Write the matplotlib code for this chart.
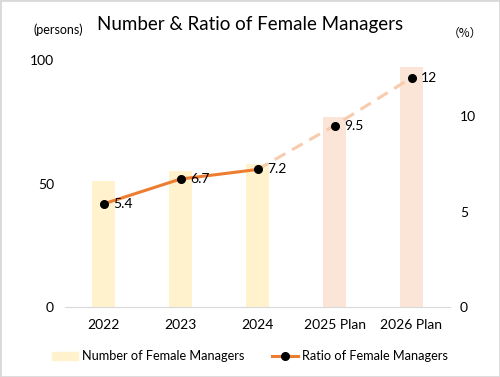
import matplotlib
matplotlib.use("Agg")
import matplotlib.pyplot as plt
from matplotlib.patches import Patch
from matplotlib.lines import Line2D

categories = ["2022", "2023", "2024", "2025 Plan", "2026 Plan"]
managers = [51, 55, 58, 77, 97]
ratio = [5.4, 6.7, 7.2, 9.5, 12]
ratio_labels = ["5.4", "6.7", "7.2", "9.5", "12"]
n_actual = 3

plt.rcParams['font.family'] = ['Lato', 'DejaVu Sans']
fig = plt.figure(figsize=(5.0, 3.77), dpi=100)
ax = fig.add_axes([0.13, 0.1857, 0.77, 0.655])
ax2 = ax.twinx()

x = list(range(len(categories)))
bar_colors = ["#FFF2CC"] * n_actual + ["#FBE5D6"] * (len(categories) - n_actual)
ax.bar(x, managers, width=0.31, color=bar_colors, zorder=1)
ax.set_xlim(-0.5, len(categories) - 0.5)
ax.set_ylim(0, 100)
ax.set_yticks([0, 50, 100])
ax.set_xticks(x)
ax.set_xticklabels(categories, fontsize=10)
ax2.set_ylim(0, 12.93)
ax2.set_yticks([0, 5, 10])

for a in (ax, ax2):
    for s in a.spines.values():
        s.set_visible(False)
    a.tick_params(length=0, labelsize=10, colors="black")
ax.tick_params(axis='y', pad=8)
ax2.tick_params(axis='y', pad=7)
ax.tick_params(axis='x', pad=9)
ax.spines['bottom'].set_visible(True)
ax.spines['bottom'].set_color("#D9D9D9")

ax2.plot(x[n_actual - 1:], ratio[n_actual - 1:], color="#F8CBAD", lw=2.2,
         ls=(0, (4, 2.5)), zorder=2)
ax2.plot(x[:n_actual], ratio[:n_actual], color="#ED7D31", lw=2.2, zorder=3)
ax2.plot(x, ratio, ls="none", marker="o", ms=5.5, color="black", zorder=4)
for xi, yi, lab in zip(x, ratio, ratio_labels):
    ax2.annotate(lab, (xi, yi), xytext=(7, 0), textcoords="offset points",
                 ha="left", va="center", fontsize=10)

fig.text(0.5, 0.935, "Number & Ratio of Female Managers", ha="center", va="center",
         fontsize=13.5)
fig.text(0.066, 0.92, "(persons)", ha="left", va="center", fontsize=9)
fig.text(0.93, 0.912, "（%）", ha="center", va="center", fontsize=8.5,
         family=['Noto Sans CJK JP', 'DejaVu Sans'])

handles = [Patch(color="#FFF2CC"),
           Line2D([0], [0], color="#ED7D31", lw=2.2, marker="o", mfc="black",
                  mec="black", ms=5.5)]
fig.legend(handles, ["Number of Female Managers", "Ratio of Female Managers"],
           loc="center", bbox_to_anchor=(0.5, 0.055), ncol=2, frameon=False,
           fontsize=9.2, handlelength=2.0, handleheight=0.6, columnspacing=2.2,
           handletextpad=0.3)

border = plt.Rectangle((0, 0), 1, 1, transform=fig.transFigure, fill=False,
                       edgecolor="#D9D9D9", lw=2)
fig.patches.append(border)

fig.savefig("out.png", dpi=100)
